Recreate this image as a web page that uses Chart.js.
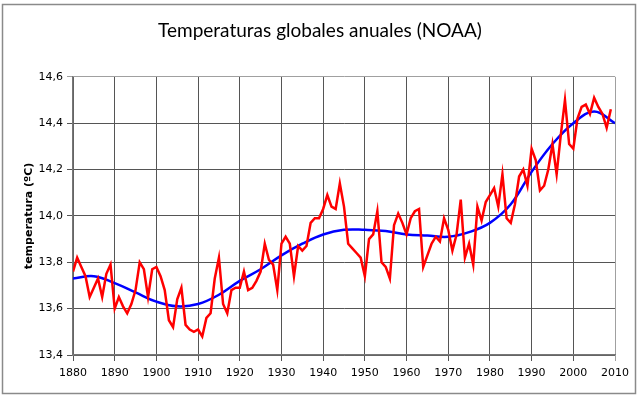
<!DOCTYPE html>
<html>
<head>
<meta charset="utf-8">
<script src="https://cdn.jsdelivr.net/npm/chart.js@4"></script>
<style>
  html, body { margin: 0; padding: 0; background: #fff; }
  #wrap { width: 640px; height: 399px; }
</style>
</head>
<body>
<div id="wrap"><canvas id="tempChart" width="640" height="399"></canvas></div>
<script>
  // Annual values (red) 1880-2009
  const firstYear = 1880;
  const annualTemps = [
    13.76, 13.82, 13.78, 13.74, 13.65, 13.69, 13.73, 13.65, 13.75, 13.79,
    13.60, 13.65, 13.61, 13.58, 13.62, 13.68, 13.80, 13.77, 13.65, 13.77,
    13.78, 13.74, 13.68, 13.55, 13.52, 13.64, 13.69, 13.53, 13.51, 13.50,
    13.51, 13.48, 13.56, 13.58, 13.73, 13.82, 13.62, 13.58, 13.68, 13.69,
    13.69, 13.76, 13.68, 13.69, 13.72, 13.76, 13.88, 13.81, 13.79, 13.68,
    13.88, 13.91, 13.88, 13.74, 13.87, 13.85, 13.87, 13.97, 13.99, 13.99,
    14.03, 14.09, 14.04, 14.03, 14.14, 14.04, 13.88, 13.86, 13.84, 13.82,
    13.74, 13.90, 13.92, 14.02, 13.80, 13.78, 13.73, 13.96, 14.01, 13.97,
    13.92, 13.99, 14.02, 14.03, 13.78, 13.83, 13.88, 13.91, 13.89, 13.99,
    13.94, 13.85, 13.92, 14.07, 13.82, 13.88, 13.79, 14.04, 13.98, 14.06,
    14.09, 14.12, 14.04, 14.18, 13.99, 13.97, 14.05, 14.17, 14.20, 14.13,
    14.29, 14.24, 14.11, 14.13, 14.20, 14.31, 14.18, 14.35, 14.50, 14.31,
    14.29, 14.42, 14.47, 14.48, 14.44, 14.51, 14.47, 14.44, 14.38, 14.46
  ];
  // Smoothed trend (blue), read every 5 years
  const trendYears = [1880, 1885, 1890, 1895, 1900, 1905, 1910, 1915, 1920, 1925, 1930, 1935, 1940,
    1945, 1950, 1955, 1960, 1965, 1970, 1975, 1980, 1985, 1990, 1995, 2000, 2005, 2010];
  const trendTemps = [13.73, 13.74, 13.71, 13.67, 13.63, 13.61, 13.62, 13.66, 13.72, 13.77, 13.83, 13.88, 13.92,
    13.94, 13.94, 13.935, 13.92, 13.915, 13.91, 13.93, 13.97, 14.05, 14.19, 14.31, 14.40, 14.45, 14.40];

  const annualPoints = annualTemps.map((v, i) => ({ x: firstYear + i, y: v }));
  const trendPoints = trendTemps.map((v, i) => ({ x: trendYears[i], y: v }));

  // white background + outer frame
  const framePlugin = {
    id: 'frame',
    beforeDraw(chart) {
      const c = chart.ctx;
      c.save();
      c.fillStyle = '#fff';
      c.fillRect(0, 0, chart.width, chart.height);
      c.strokeStyle = '#8a8a8a';
      c.lineWidth = 1.5;
      c.strokeRect(2.5, 4.5, 633, 389);
      c.restore();
    }
  };

  const ctx = document.getElementById('tempChart').getContext('2d');
  const tempChart = new Chart(ctx, {
    type: 'line',
    data: {
      datasets: [{
        label: 'anual',
        data: annualPoints,
        borderColor: '#ff0000',
        borderWidth: 2.5,
        pointRadius: 0,
        tension: 0
      }, {
        label: 'tendencia',
        data: trendPoints,
        borderColor: '#0000ff',
        borderWidth: 2.5,
        pointRadius: 0,
        tension: 0.4
      }]
    },
    options: {
      responsive: false,
      animation: false,
      layout: { padding: { left: 25, right: 25, top: 0, bottom: 0 } },
      plugins: {
        legend: { display: false },
        tooltip: { enabled: false },
        title: {
          display: true,
          text: 'Temperaturas globales anuales (NOAA)',
          color: '#000',
          font: { family: 'Lato', size: 19, weight: 'normal' },
          padding: { top: 19, bottom: 35 }
        }
      },
      scales: {
        x: {
          type: 'linear',
          min: 1880,
          max: 2010,
          afterFit: s => { s.height = 44; },
          ticks: {
            stepSize: 10,
            color: '#000',
            padding: 6,
            font: { family: 'DejaVu Sans', size: 11 },
            callback: v => String(v)
          },
          grid: {
            color: c => c.tick && c.tick.value === 2010 ? '#a0a0a0' : '#555',
            lineWidth: 1,
            tickLength: 6
          },
          border: { color: '#777', width: 1.5 }
        },
        y: {
          min: 13.4,
          max: 14.6,
          afterFit: s => { s.width = 48; },
          ticks: {
            stepSize: 0.2,
            color: '#000',
            padding: 4,
            font: { family: 'DejaVu Sans', size: 11 },
            callback: v => v.toFixed(1).replace('.', ',')
          },
          grid: {
            color: c => c.tick && Math.abs(c.tick.value - 14.6) < 1e-6 ? '#a0a0a0' : '#555',
            lineWidth: 1,
            tickLength: 6
          },
          border: { color: '#777', width: 1.5 },
          title: {
            display: true,
            text: 'temperatura (ºC)',
            color: '#000',
            font: { family: 'DejaVu Sans', size: 11, weight: 'bold' },
            padding: { top: -2, bottom: 0 }
          }
        }
      }
    },
    plugins: [framePlugin]
  });
</script>
</body>
</html>
